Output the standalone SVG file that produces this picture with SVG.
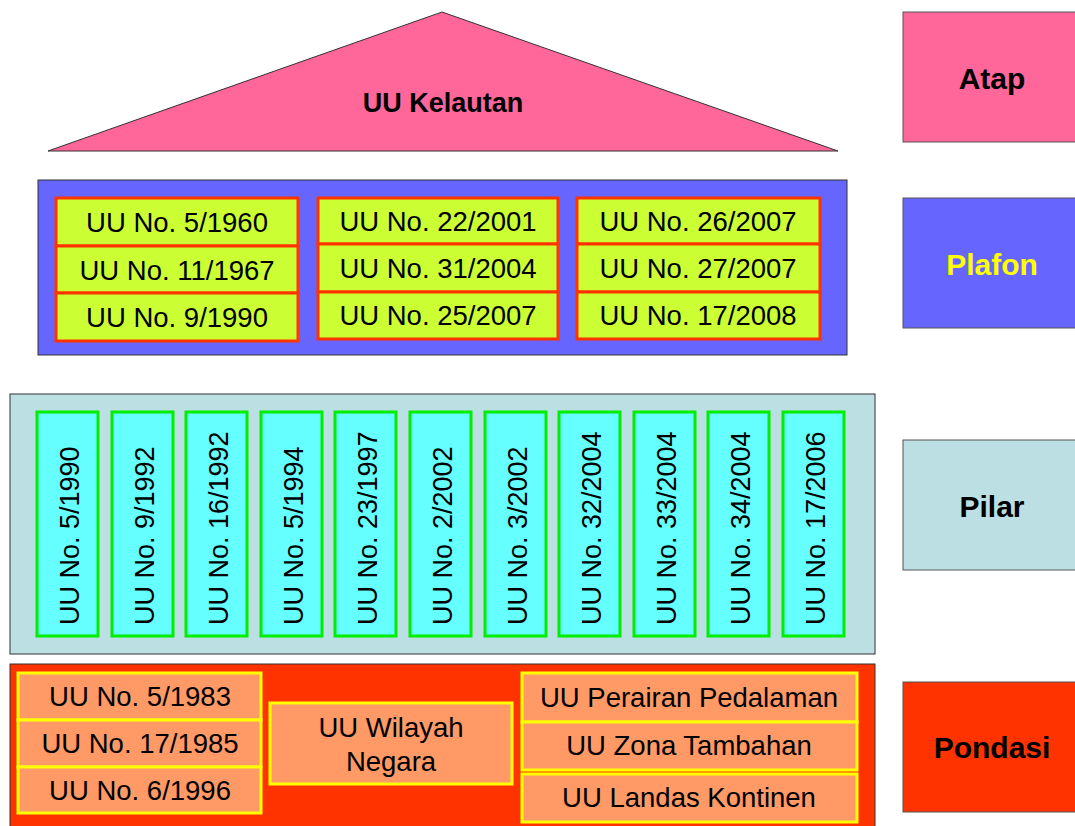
<svg xmlns="http://www.w3.org/2000/svg" width="1075" height="826" viewBox="0 0 1075 826">
<style>
text{font-family:"Liberation Sans",Arial,sans-serif;fill:#000}
.t{font-size:27.5px;text-anchor:middle}
.b{font-weight:bold;text-anchor:middle}
.lbl{font-size:30px;font-weight:bold;text-anchor:middle}
.cont{stroke:#333;stroke-width:1}
.pf{fill:#CCFF33;stroke:#FF3300;stroke-width:3}
.pl{fill:#66FFFF;stroke:#00EE00;stroke-width:3}
.pd{fill:#FF9966;stroke:#FFFF00;stroke-width:3}
.pt{font-size:27px}
</style>
<rect width="1075" height="826" fill="#fff"/>

<g id="atap">
<polygon points="442,12 838,151 48,151" fill="#FF6699" stroke="#333" stroke-width="1"/>
<text class="b" x="443" y="112" font-size="27">UU Kelautan</text>
</g>

<g id="plafon">
<rect class="cont" x="38" y="180" width="809" height="175" fill="#6666FF"/>
<g id="plafon-col1">
<rect class="pf" x="56" y="198" width="242" height="48"/>
<rect class="pf" x="56" y="246" width="242" height="47"/>
<rect class="pf" x="56" y="293" width="242" height="48"/>
<text class="t" x="177" y="232">UU No. 5/1960</text>
<text class="t" x="177" y="280">UU No. 11/1967</text>
<text class="t" x="177" y="327">UU No. 9/1990</text>
</g>
<g id="plafon-col2">
<rect class="pf" x="318" y="198" width="240" height="46"/>
<rect class="pf" x="318" y="244" width="240" height="48"/>
<rect class="pf" x="318" y="292" width="240" height="47"/>
<text class="t" x="438" y="231">UU No. 22/2001</text>
<text class="t" x="438" y="278">UU No. 31/2004</text>
<text class="t" x="438" y="325">UU No. 25/2007</text>
</g>
<g id="plafon-col3">
<rect class="pf" x="577" y="198" width="243" height="46"/>
<rect class="pf" x="577" y="244" width="243" height="48"/>
<rect class="pf" x="577" y="292" width="243" height="47"/>
<text class="t" x="698" y="231">UU No. 26/2007</text>
<text class="t" x="698" y="278">UU No. 27/2007</text>
<text class="t" x="698" y="325">UU No. 17/2008</text>
</g>
</g>

<g id="pilar">
<rect class="cont" x="10" y="394" width="865" height="260" fill="#BBDFE2"/>
<g id="p1"><rect class="pl" x="37" y="412" width="61" height="224"/><text class="pt" transform="translate(79,625) rotate(-90)">UU No. 5/1990</text></g>
<g id="p2"><rect class="pl" x="112" y="412" width="61" height="224"/><text class="pt" transform="translate(154,625) rotate(-90)">UU No. 9/1992</text></g>
<g id="p3"><rect class="pl" x="186" y="412" width="61" height="224"/><text class="pt" transform="translate(228,625) rotate(-90)">UU No. 16/1992</text></g>
<g id="p4"><rect class="pl" x="261" y="412" width="61" height="224"/><text class="pt" transform="translate(303,625) rotate(-90)">UU No. 5/1994</text></g>
<g id="p5"><rect class="pl" x="335" y="412" width="61" height="224"/><text class="pt" transform="translate(377,625) rotate(-90)">UU No. 23/1997</text></g>
<g id="p6"><rect class="pl" x="410" y="412" width="61" height="224"/><text class="pt" transform="translate(452,625) rotate(-90)">UU No. 2/2002</text></g>
<g id="p7"><rect class="pl" x="485" y="412" width="61" height="224"/><text class="pt" transform="translate(527,625) rotate(-90)">UU No. 3/2002</text></g>
<g id="p8"><rect class="pl" x="559" y="412" width="61" height="224"/><text class="pt" transform="translate(601,625) rotate(-90)">UU No. 32/2004</text></g>
<g id="p9"><rect class="pl" x="634" y="412" width="61" height="224"/><text class="pt" transform="translate(676,625) rotate(-90)">UU No. 33/2004</text></g>
<g id="p10"><rect class="pl" x="708" y="412" width="61" height="224"/><text class="pt" transform="translate(750,625) rotate(-90)">UU No. 34/2004</text></g>
<g id="p11"><rect class="pl" x="783" y="412" width="61" height="224"/><text class="pt" transform="translate(825,625) rotate(-90)">UU No. 17/2006</text></g>
</g>

<g id="pondasi">
<rect class="cont" x="10" y="664" width="865" height="170" fill="#FF3300"/>
<g id="pondasi-left">
<rect class="pd" x="18" y="673" width="243" height="47"/>
<rect class="pd" x="18" y="720" width="243" height="47"/>
<rect class="pd" x="18" y="767" width="243" height="46"/>
<text class="t" x="140" y="706">UU No. 5/1983</text>
<text class="t" x="140" y="753">UU No. 17/1985</text>
<text class="t" x="140" y="800">UU No. 6/1996</text>
</g>
<g id="pondasi-mid">
<rect class="pd" x="270" y="703" width="242" height="81"/>
<text class="t" x="391" y="737">UU Wilayah</text>
<text class="t" x="391" y="771">Negara</text>
</g>
<g id="pondasi-right">
<rect class="pd" x="522" y="673" width="335" height="49"/>
<rect class="pd" x="522" y="722" width="335" height="48"/>
<rect class="pd" x="522" y="774" width="335" height="48"/>
<text class="t" x="689" y="707">UU Perairan Pedalaman</text>
<text class="t" x="689" y="755">UU Zona Tambahan</text>
<text class="t" x="689" y="807">UU Landas Kontinen</text>
</g>
</g>

<g id="label-atap"><rect x="903" y="12" width="180" height="130" fill="#FF6699" stroke="#555" stroke-width="1"/><text class="lbl" x="992" y="89">Atap</text></g>
<g id="label-plafon"><rect x="903" y="198" width="180" height="130" fill="#6666FF" stroke="#555" stroke-width="1"/><text class="lbl" x="992" y="275" style="fill:#FFFF00">Plafon</text></g>
<g id="label-pilar"><rect x="903" y="440" width="180" height="130" fill="#BBDFE2" stroke="#555" stroke-width="1"/><text class="lbl" x="992" y="517">Pilar</text></g>
<g id="label-pondasi"><rect x="903" y="682" width="180" height="130" fill="#FF3300" stroke="#555" stroke-width="1"/><text class="lbl" x="992" y="758">Pondasi</text></g>
<g id="connectors"></g>
</svg>
